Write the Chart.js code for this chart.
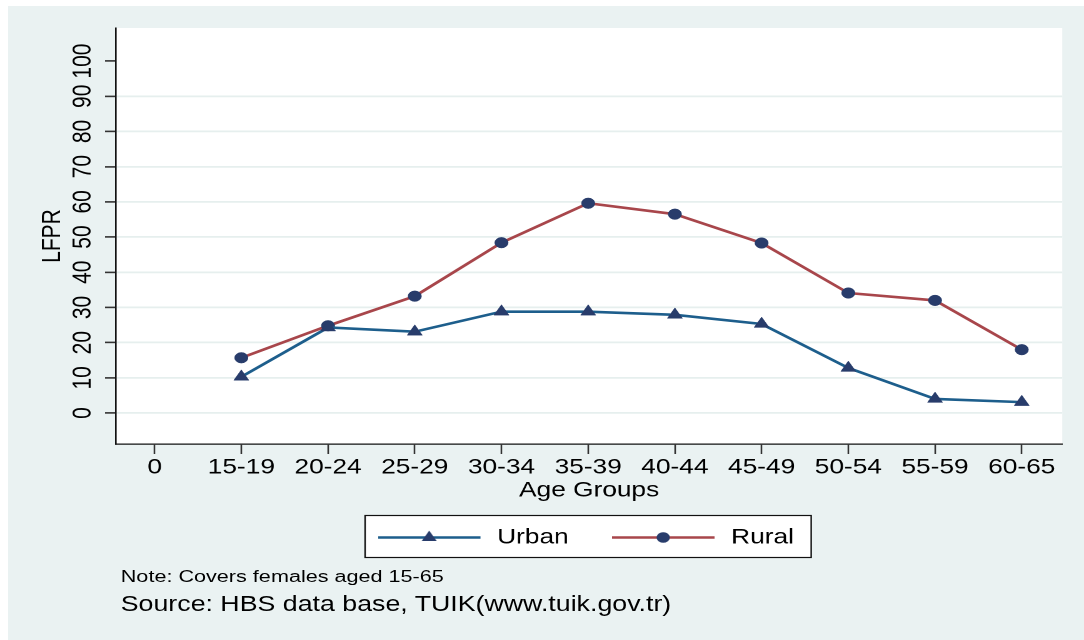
<!DOCTYPE html>
<html><head><meta charset="utf-8">
<script src="https://cdn.jsdelivr.net/npm/chart.js@4.4.1/dist/chart.umd.min.js"></script>
<style>
html,body{margin:0;padding:0;background:#fff;width:1084px;height:640px;overflow:hidden;}
#bg{position:absolute;left:8px;top:6px;width:1076px;height:634px;background:#EAF2F2;}
#wrap{position:absolute;left:0;top:0;width:867px;height:640px;transform:scaleX(1.25029);transform-origin:0 0;}
#chart{position:absolute;left:0;top:0;width:867px;height:640px;}
.note{position:absolute;left:96.6px;font-family:"Liberation Sans",Arial,sans-serif;color:#000;line-height:1;white-space:nowrap;}
</style></head>
<body>
<div id="bg"></div>
<div id="wrap">
<canvas id="chart" width="867" height="640"></canvas>
<div class="note" style="top:568.3px;font-size:17.3px">Note: Covers females aged 15-65</div>
<div class="note" style="top:593.6px;font-size:21.4px">Source: HBS data base, TUIK(www.tuik.gov.tr)</div>
</div>
<script>
// ---- data ----
const ageGroups = ['0','15-19','20-24','25-29','30-34','35-39','40-44','45-49','50-54','55-59','60-65'];
const urbanLFPR = [null, 10.3, 24.3, 23.1, 28.8, 28.8, 27.9, 25.3, 12.8, 4.0, 3.1];
const ruralLFPR = [null, 15.7, 24.8, 33.2, 48.4, 59.6, 56.5, 48.3, 34.1, 32.0, 18.0];
const yTicks = [0,10,20,30,40,50,60,70,80,90,100];
const seriesNames = ['Urban','Rural'];

// ---- styles ----
const FONT = '"Liberation Sans", Arial, sans-serif';
const URBAN_LINE = '#1D5E8C';
const RURAL_LINE = '#A8464B';
const MARKER = '#283C6B';
const GRID = '#E6EFEE';

function toPoints(arr){
  const out = [];
  arr.forEach((v,i)=>{ if (v !== null) out.push({x:i, y:v}); });
  return out;
}

function makeSymbol(color, style){
  const W = 90, H = 16, S = 2, LINE = 82;
  const c = document.createElement('canvas');
  c.width = W*S; c.height = H*S;
  const g = c.getContext('2d');
  g.scale(S,S);
  g.strokeStyle = color; g.lineWidth = 2.6;
  g.beginPath(); g.moveTo(0,H/2); g.lineTo(LINE,H/2); g.stroke();
  g.fillStyle = MARKER;
  const cx = LINE/2, cy = H/2;
  g.beginPath();
  if (style === 'triangle'){
    const r = 6.9;
    for (let k=0;k<3;k++){
      const a = k*2*Math.PI/3;
      const px = cx + Math.sin(a)*r, py = cy - Math.cos(a)*r;
      if (k===0) g.moveTo(px,py); else g.lineTo(px,py);
    }
    g.closePath();
  } else {
    g.arc(cx, cy, 5.3, 0, Math.PI*2);
  }
  g.fill();
  const img = new Image();
  img.width = W; img.height = H;
  img.src = c.toDataURL();
  return img;
}

const symbols = [makeSymbol(URBAN_LINE,'triangle'), makeSymbol(RURAL_LINE,'circle')];

const framePlugin = {
  id: 'frame',
  beforeDraw(chart){
    const {ctx, chartArea:a} = chart;
    ctx.save();
    ctx.fillStyle = '#fff';
    ctx.fillRect(a.left, a.top, a.right-a.left, a.bottom-a.top);
    const hb = chart.legend && chart.legend.legendHitBoxes;
    if (hb && hb.length){
      const f = hb[0], l = hb[hb.length-1];
      const x0 = f.left - 15.4, x1 = l.left + l.width + 13.8;
      const y0 = f.top - 11.5, y1 = f.top + f.height + 9.5;
      ctx.fillStyle = '#fff';
      ctx.fillRect(x0, y0, x1-x0, y1-y0);
      ctx.strokeStyle = '#111';
      ctx.lineWidth = 1.2;
      ctx.strokeRect(x0, y0, x1-x0, y1-y0);
    }
    ctx.restore();
  }
};

function build(){
  Chart.defaults.font.family = FONT;
  Chart.defaults.font.size = 21;
  Chart.defaults.color = '#000';
  new Chart(document.getElementById('chart'), {
    type: 'line',
    data: {
      datasets: [
        { label: seriesNames[0], data: toPoints(urbanLFPR), borderColor: URBAN_LINE, borderWidth: 2.6,
          pointStyle: 'triangle', pointRadius: 6.9, pointBackgroundColor: MARKER, pointBorderColor: MARKER, pointBorderWidth: 0.5,
          tension: 0, fill: false },
        { label: seriesNames[1], data: toPoints(ruralLFPR), borderColor: RURAL_LINE, borderWidth: 2.6,
          pointStyle: 'circle', pointRadius: 5.3, pointBackgroundColor: MARKER, pointBorderColor: MARKER, pointBorderWidth: 0.5,
          tension: 0, fill: false }
      ]
    },
    options: {
      responsive: false,
      devicePixelRatio: 2,
      animation: false,
      events: [],
      layout: { padding: { top: 28, right: 17.4, bottom: 82, left: 0 } },
      scales: {
        x: {
          type: 'linear', min: -0.445, max: 10.467,
          afterBuildTicks: s => { s.ticks = ageGroups.map((_, i) => ({value: i})); },
          afterFit: s => { s.height = 43.2; },
          ticks: { callback: v => ageGroups[v], padding: 1, color: '#000', font: {size: 21},
                   maxRotation: 0, minRotation: 0, autoSkip: false },
          grid: { drawOnChartArea: false, drawTicks: true, tickLength: 10, tickColor: '#333', tickWidth: 1.3, color: '#333' },
          border: { display: true, color: '#111', width: 1.3 },
          title: { display: true, text: 'Age Groups', color: '#000', font: {size: 21}, padding: {top: 0, bottom: -15.9} }
        },
        y: {
          type: 'linear', min: -8.8, max: 109.4,
          afterBuildTicks: s => { s.ticks = yTicks.map(v => ({value: v})); },
          afterFit: s => { s.width = 92.8; },
          ticks: { minRotation: 90, maxRotation: 90, crossAlign: 'center', padding: 0, color: '#000', font: {size: 21} },
          grid: { color: c => (c.tick && c.tick.value === 100) ? 'rgba(0,0,0,0)' : GRID, lineWidth: 1.8,
                  tickLength: 8.8, tickColor: '#333', tickWidth: 1.6 },
          border: { display: true, color: '#111', width: 1.3 },
          title: { display: true, text: 'LFPR', color: '#000', font: {size: 21}, padding: {top: 29.8, bottom: 0} }
        }
      },
      plugins: {
        tooltip: { enabled: false },
        legend: {
          position: 'bottom', fullSize: false, align: 'center',
          labels: {
            usePointStyle: true, pointStyleWidth: 79.7, padding: 39.8, color: '#000', font: {size: 21},
            generateLabels: chart => {
              const items = Chart.defaults.plugins.legend.labels.generateLabels(chart);
              items.forEach((it, i) => { it.pointStyle = symbols[i]; });
              return items;
            }
          }
        }
      }
    },
    plugins: [framePlugin]
  });
}

Promise.all(symbols.map(im => new Promise(res => {
  if (im.complete && im.naturalWidth) res(); else { im.onload = res; im.onerror = res; }
}))).then(build);
</script>
</body></html>
